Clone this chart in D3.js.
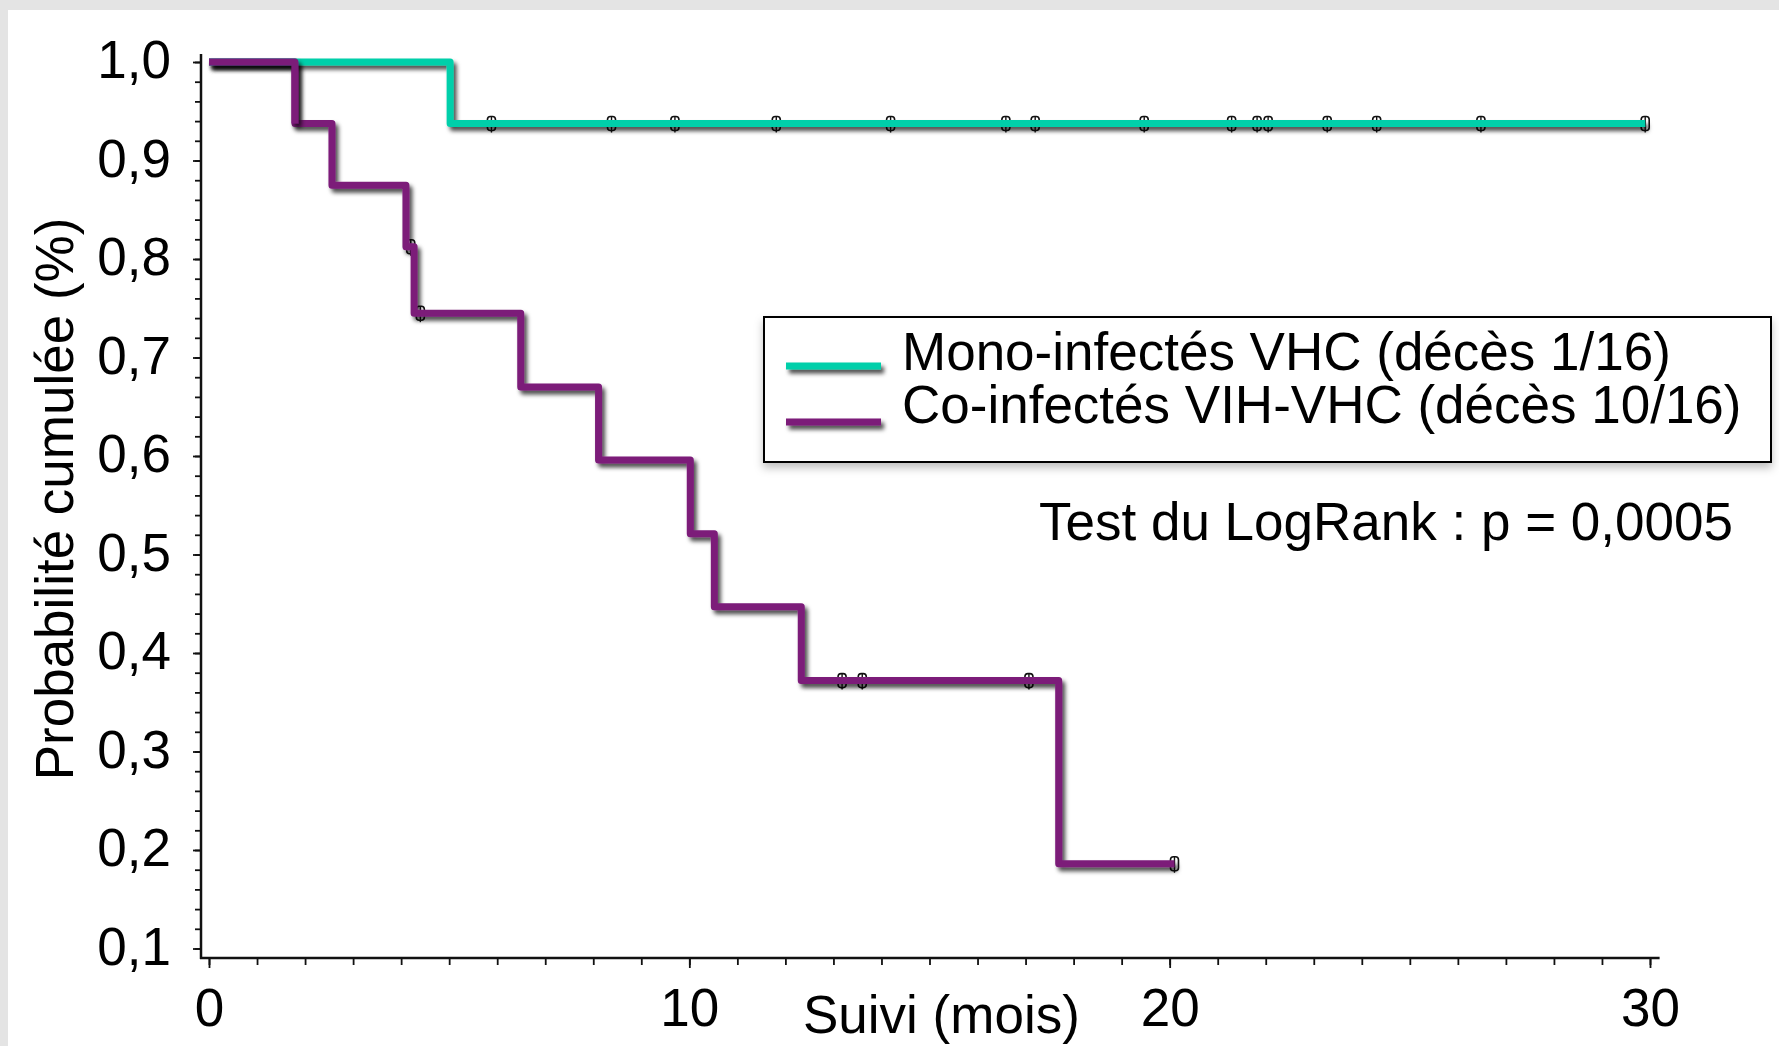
<!DOCTYPE html>
<html>
<head>
<meta charset="utf-8">
<script src="https://cdn.jsdelivr.net/npm/d3@7"></script>
<style>
  html, body { margin: 0; padding: 0; background: #e4e4e4; }
  svg { display: block; }
  text { font-family: "Liberation Sans", Arial, Helvetica, sans-serif; fill: #000; }
</style>
</head>
<body>
<svg id="chart" width="1779" height="1046"></svg>
<script>
// ---- Data: Kaplan-Meier curves (follow-up in months, cumulative probability) ----
const seriesNames = ["Mono-infectés VHC (décès 1/16)", "Co-infectés VIH-VHC (décès 10/16)"];
const seriesColors = ["#00cfaa", "#7b1b79"];

// Mono-infected: step start times and survival levels
const monoTimes = [0, 5.02, 29.9];
const monoSurv  = [1.0, 0.9375, 0.9375];
const monoCensored = [5.88, 8.38, 9.70, 11.81, 14.19, 16.59, 17.20, 19.47, 21.29, 21.82, 22.05, 23.28, 24.31, 26.48, 29.9];

// Co-infected: step start times and survival levels
const coTimes = [0, 1.79, 2.56, 4.10, 4.27, 6.49, 8.11, 10.02, 10.52, 12.33, 17.69, 20.1];
const coSurv  = [1.0, 0.9375, 0.875, 0.8125, 0.745, 0.670, 0.596, 0.521, 0.447, 0.372, 0.186, 0.186];
const coCensored = [4.20, 4.40, 13.18, 13.60, 17.07, 20.1];

// Axis ticks
const xMajorTicks = [0, 10, 20, 30];
const xMinorTicks = d3.range(0, 31, 1);
const yMajorTicks = [0.1, 0.2, 0.3, 0.4, 0.5, 0.6, 0.7, 0.8, 0.9, 1.0];
const yMinorTicks = d3.range(10, 101, 2).map(d => d / 100);

const axisTitleX = "Suivi (mois)";
const axisTitleY = "Probabilité cumulée (%)";
const testLabel = "Test du LogRank : p = 0,0005";

// ---- Layout ----
const W = 1779, H = 1046;
const svg = d3.select("#chart");
const x = d3.scaleLinear().domain([0, 30]).range([209, 1650]);
const y = d3.scaleLinear().domain([0.1, 1.0]).range([948.5, 62]);
const FS = 53;
const fmt = d => d.toFixed(1).replace(".", ",");

const defs = svg.append("defs");
const sh = defs.append("filter").attr("id", "shadow")
  .attr("filterUnits", "userSpaceOnUse")
  .attr("x", 0).attr("y", 0).attr("width", W).attr("height", H);
sh.append("feDropShadow").attr("dx", 3).attr("dy", 4).attr("stdDeviation", 2)
  .attr("flood-color", "#000").attr("flood-opacity", 0.7);
const boxSh = defs.append("filter").attr("id", "boxshadow")
  .attr("filterUnits", "userSpaceOnUse")
  .attr("x", 0).attr("y", 0).attr("width", W).attr("height", H);
boxSh.append("feDropShadow").attr("dx", 0).attr("dy", 5).attr("stdDeviation", 4)
  .attr("flood-color", "#000").attr("flood-opacity", 0.25);

// white panel inside the grey frame
svg.append("rect").attr("x", 8).attr("y", 10).attr("width", W - 8).attr("height", H - 10).attr("fill", "#fff");

// ---- Axes ----
const xMinor = svg.append("g").attr("transform", `translate(0,958)`)
  .call(d3.axisBottom(x).tickValues(xMinorTicks).tickSize(7).tickFormat(""));
const xMajor = svg.append("g").attr("transform", `translate(0,958)`)
  .call(d3.axisBottom(x).tickValues(xMajorTicks).tickSize(10).tickPadding(20).tickFormat(d3.format("d")));
const yMinor = svg.append("g").attr("transform", `translate(201,0)`)
  .call(d3.axisLeft(y).tickValues(yMinorTicks).tickSize(6).tickFormat(""));
const yMajor = svg.append("g").attr("transform", `translate(201,0)`)
  .call(d3.axisLeft(y).tickValues(yMajorTicks).tickSize(8).tickPadding(22).tickFormat(fmt));

[xMinor, xMajor, yMinor, yMajor].forEach(g => {
  g.select(".domain").remove();
  g.selectAll(".tick line").attr("stroke", "#111").attr("stroke-width", 1.8);
  g.selectAll(".tick text").attr("font-size", FS).attr("font-family", "Liberation Sans, Arial, sans-serif").attr("fill", "#000");
});
yMajor.selectAll(".tick text").attr("dy", "0.3em");

// axis lines
svg.append("line").attr("x1", 201).attr("x2", 201).attr("y1", y(1.008)).attr("y2", 959)
  .attr("stroke", "#111").attr("stroke-width", 2.5);
svg.append("line").attr("x1", 200).attr("x2", x(30.2)).attr("y1", 958).attr("y2", 958)
  .attr("stroke", "#111").attr("stroke-width", 2.5);

// axis titles
svg.append("text").attr("x", 803).attr("y", 1033).attr("font-size", FS).text(axisTitleX);
svg.append("text").attr("transform", "translate(73,499) rotate(-90)")
  .attr("text-anchor", "middle").attr("font-size", FS).text(axisTitleY);

// ---- Curves ----
const series = [
  { times: monoTimes, surv: monoSurv, cens: monoCensored, color: seriesColors[0] },
  { times: coTimes, surv: coSurv, cens: coCensored, color: seriesColors[1] }
];
const levelAt = (s, t) => s.surv[Math.max(0, d3.bisectRight(s.times, t) - 1)];

const line = d3.line().x(d => x(d[0])).y(d => y(d[1])).curve(d3.curveStepAfter);

// censoring marks (drawn first so the curve covers their middle)
series.forEach(s => {
  const g = svg.append("g");
  s.cens.forEach(t => {
    const cx = x(t), cy = y(levelAt(s, t));
    g.append("rect").attr("x", cx - 4).attr("y", cy - 7).attr("width", 8).attr("height", 14)
      .attr("rx", 3).attr("fill", "none").attr("stroke", "#111").attr("stroke-width", 1.6);
    g.append("line").attr("x1", cx).attr("x2", cx).attr("y1", cy - 7).attr("y2", cy + 9)
      .attr("stroke", "#111").attr("stroke-width", 1.4);
  });
});

// purple curve underneath, teal on top, then purple's first segment over the shared 1,0 level
[series[1], series[0]].forEach(s => {
  svg.append("path")
    .datum(s.times.map((t, i) => [t, s.surv[i]]))
    .attr("d", line)
    .attr("fill", "none")
    .attr("stroke", s.color)
    .attr("stroke-width", 7)
    .attr("stroke-linejoin", "round")
    .attr("filter", "url(#shadow)");
});
svg.append("path")
  .datum(coTimes.slice(0, 2).map((t, i) => [t, coSurv[i]]))
  .attr("d", line)
  .attr("fill", "none").attr("stroke", seriesColors[1]).attr("stroke-width", 7)
  .attr("stroke-linejoin", "round").attr("filter", "url(#shadow)");

// ---- Legend ----
const lg = svg.append("g");
lg.append("rect").attr("x", 764).attr("y", 317).attr("width", 1007).attr("height", 145)
  .attr("fill", "#fff").attr("stroke", "#000").attr("stroke-width", 2).attr("filter", "url(#boxshadow)");
const legendRows = [366, 422];
const legendBaselines = [370, 423];
seriesNames.forEach((name, i) => {
  lg.append("line").attr("x1", 786).attr("x2", 881).attr("y1", legendRows[i]).attr("y2", legendRows[i])
    .attr("stroke", seriesColors[i]).attr("stroke-width", 7).attr("filter", "url(#shadow)");
  lg.append("text").attr("x", 902).attr("y", legendBaselines[i])
    .attr("font-size", FS).text(name);
});

svg.append("text").attr("x", 1039).attr("y", 540).attr("font-size", FS).text(testLabel);
</script>
</body>
</html>
